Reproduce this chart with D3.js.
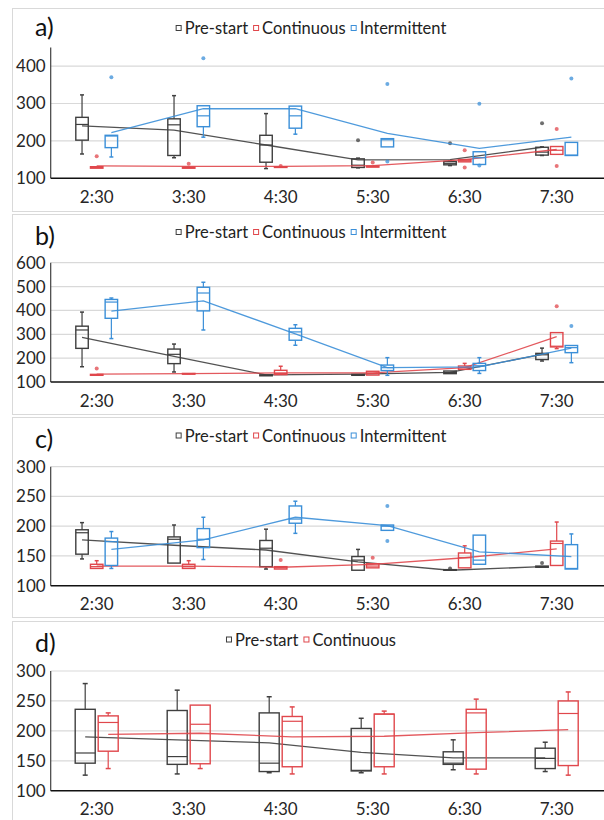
<!DOCTYPE html>
<html>
<head>
<meta charset="utf-8">
<script src="https://cdn.jsdelivr.net/npm/d3@7"></script>
<style>
  body { margin: 0; background: #fff; }
  text { font-family: Lato, "Open Sans", sans-serif; fill: #333; }
</style>
</head>
<body>
<script>
// categories
var times = ['2:30', '3:30', '4:30', '5:30', '6:30', '7:30'];

// boxes are [low whisker, q1, median, q3, high whisker]
// panel a
var aPreBox = [[165, 202, 244, 263, 323], [155, 161, 243, 259, 321], [126, 143, 189, 215, 273], [128, 129, 135, 152, 154], [134, 136, 140, 145, 146], [161, 162, 170, 183, 184]];
var aPreMean = [240, 229, 189, 149, 150, 183];
var aPreOut = [[], [], [], [202], [194], [247]];
var aConBox = [[127, 127, 129, 131, 131], [127, 127, 128, 130, 130], [129, 129, 130, 131, 131], [130, 130, 131, 133, 133], [144, 144, 147, 150, 150], [164, 164, 175, 185, 185]];
var aConMean = [133, 132, 132, 134, 150, 177];
var aConOut = [[159], [139], [133], [142], [175, 129], [232, 133]];
var aIntBox = [[157, 182, 213, 215, 215], [210, 238, 267, 294, 294], [218, 234, 267, 293, 293], [184, 184, 203, 206, 206], [137, 137, 155, 171, 171], [161, 161, 162, 196, 196]];
var aIntMean = [222, 286, 286, 220, 180, 210];
var aIntOut = [[370], [421], [], [352, 145], [299, 134], [367]];

// panel b
var bPreBox = [[164, 241, 318, 334, 393], [142, 177, 216, 238, 259], [126, 126, 128, 130, 130], [128, 128, 130, 132, 132], [135, 135, 140, 146, 146], [188, 194, 214, 220, 242]];
var bPreMean = [287, 207, 130, 133, 140, 216];
var bPreOut = [[], [], [], [], [], []];
var bConBox = [[128, 128, 130, 132, 132], [133, 133, 134, 136, 136], [131, 131, 135, 149, 166], [129, 129, 136, 145, 145], [153, 153, 160, 167, 178], [240, 247, 250, 307, 307]];
var bConMean = [133, 135, 138, 138, 160, 290];
var bConOut = [[157], [], [], [], [], [417]];
var bIntBox = [[282, 367, 435, 446, 452], [318, 398, 473, 497, 518], [254, 275, 310, 325, 340], [128, 148, 160, 171, 202], [136, 148, 168, 178, 202], [181, 223, 244, 253, 253]];
var bIntMean = [397, 440, 302, 160, 163, 242];
var bIntOut = [[], [], [], [], [], [335]];

// panel c
var cPreBox = [[145, 153, 189, 194, 206], [138, 138, 178, 182, 202], [128, 132, 163, 176, 195], [126, 126, 143, 149, 161], [126, 126, 126, 127, 127], [131, 131, 132, 133, 133]];
var cPreMean = [177, 168, 160, 140, 126, 132];
var cPreOut = [[], [], [], [], [129], [138]];
var cConBox = [[129, 129, 132, 136, 142], [129, 129, 132, 136, 142], [128, 128, 130, 132, 132], [130, 130, 133, 137, 137], [130, 130, 147, 155, 167], [134, 134, 171, 175, 207]];
var cConMean = [133, 133, 131, 136, 147, 162];
var cConOut = [[], [], [143], [147], [], []];
var cIntBox = [[129, 134, 174, 180, 191], [144, 164, 178, 196, 215], [188, 205, 212, 234, 242], [193, 193, 200, 202, 202], [136, 136, 143, 185, 185], [128, 128, 129, 169, 187]];
var cIntMean = [161, 177, 215, 201, 157, 149];
var cIntOut = [[], [], [], [234, 175], [], []];

// panel d
var dPreBox = [[126, 146, 163, 236, 279], [128, 144, 157, 234, 268], [130, 132, 146, 230, 257], [130, 133, 134, 204, 221], [135, 144, 146, 165, 185], [132, 137, 154, 171, 181]];
var dPreMean = [190, 185, 180, 164, 155, 155];
var dPreOut = [[], [], [], [], [], []];
var dConBox = [[137, 166, 214, 225, 230], [137, 145, 211, 243, 243], [128, 140, 216, 224, 240], [128, 140, 228, 228, 233], [128, 136, 230, 236, 253], [126, 142, 229, 250, 265]];
var dConMean = [194, 196, 190, 191, 197, 202];
var dConOut = [[], [], [], [], [], []];

// tick labels
var aTicks = [100, 200, 300, 400];
var bTicks = [100, 200, 300, 400, 500, 600];
var cTicks = [100, 150, 200, 250, 300];
var dTicks = [100, 150, 200, 250, 300];

var colors = { 'Pre-start': '#3f3f3f', 'Continuous': '#e0474c', 'Intermittent': '#3b8fd8' };

var W = 604, H = 820;
var svg = d3.select('body').append('svg').attr('width', W).attr('height', H);

var x = d3.scaleBand().domain(times).range([50.7, 602.7]);

var panels = [
  { label: 'a)', top: 8, bottom: 211, domain: [100, 450], range: [178.3, 47.4], ticks: aTicks, labelY: 36, legendY: 34,
    series: [
      { name: 'Pre-start', box: aPreBox, mean: aPreMean, out: aPreOut },
      { name: 'Continuous', box: aConBox, mean: aConMean, out: aConOut },
      { name: 'Intermittent', box: aIntBox, mean: aIntMean, out: aIntOut }] },
  { label: 'b)', top: 214, bottom: 414, domain: [100, 600], range: [382, 262.7], ticks: bTicks, labelY: 245, legendY: 238,
    series: [
      { name: 'Pre-start', box: bPreBox, mean: bPreMean, out: bPreOut },
      { name: 'Continuous', box: bConBox, mean: bConMean, out: bConOut },
      { name: 'Intermittent', box: bIntBox, mean: bIntMean, out: bIntOut }] },
  { label: 'c)', top: 417, bottom: 617, domain: [100, 300], range: [585.7, 466.7], ticks: cTicks, labelY: 448, legendY: 441.5,
    series: [
      { name: 'Pre-start', box: cPreBox, mean: cPreMean, out: cPreOut },
      { name: 'Continuous', box: cConBox, mean: cConMean, out: cConOut },
      { name: 'Intermittent', box: cIntBox, mean: cIntMean, out: cIntOut }] },
  { label: 'd)', top: 621, bottom: 840, domain: [100, 300], range: [790.7, 671], ticks: dTicks, labelY: 652, legendY: 645.5,
    series: [
      { name: 'Pre-start', box: dPreBox, mean: dPreMean, out: dPreOut },
      { name: 'Continuous', box: dConBox, mean: dConMean, out: dConOut }] }
];

panels.forEach(function (p) {
  var g = svg.append('g');
  // panel frame
  g.append('rect')
    .attr('x', 12.5).attr('y', p.top + 0.5)
    .attr('width', 620).attr('height', p.bottom - p.top)
    .style('fill', 'none').style('stroke', '#d9d9d9');

  var y = d3.scaleLinear().domain(p.domain).range(p.range);
  var x0 = x.range()[0];

  // gridlines
  g.selectAll('.grid').data(p.ticks.filter(function (t) { return t > p.domain[0]; }))
    .enter().append('line')
    .attr('x1', x0).attr('x2', W)
    .attr('y1', function (d) { return y(d); }).attr('y2', function (d) { return y(d); })
    .style('stroke', '#d9d9d9').style('stroke-width', 1.2);

  // y axis
  var ya = g.append('g').attr('transform', 'translate(' + x0 + ',0)')
    .call(d3.axisLeft(y).tickValues(p.ticks).tickSize(0).tickPadding(5));
  ya.select('.domain').remove();
  ya.selectAll('text').style('font-size', '17px').style('font-family', 'Lato').style('fill', '#262626');
  g.append('line').attr('x1', x0).attr('x2', x0)
    .attr('y1', y.range()[0]).attr('y2', y(p.domain[1]))
    .style('stroke', '#404040').style('stroke-width', 1.2);

  // x axis
  var xa = g.append('g').attr('transform', 'translate(0,' + y(p.domain[0]) + ')')
    .call(d3.axisBottom(x).tickSize(0).tickPadding(12.5));
  xa.select('.domain').remove();
  xa.selectAll('text').style('font-size', '17px').style('font-family', 'Lato').style('fill', '#262626');
  g.append('line').attr('x1', x0).attr('x2', W)
    .attr('y1', y(p.domain[0])).attr('y2', y(p.domain[0]))
    .style('stroke', '#111').style('stroke-width', 1.6);

  // panel label
  g.append('text').attr('x', 35).attr('y', p.labelY).text(p.label)
    .style('font-size', '25px').style('fill', '#111');

  // legend
  var leg = g.append('g');
  var lx = 0;
  p.series.forEach(function (s) {
    leg.append('rect').attr('x', lx + 0.5).attr('y', p.legendY - 8.5).attr('width', 5).attr('height', 5)
      .style('fill', 'none').style('stroke', colors[s.name]).style('stroke-width', 1);
    var t = leg.append('text').attr('x', lx + 9).attr('y', p.legendY).text(s.name)
      .style('font-size', '16.5px').style('fill', '#222');
    lx += 9 + t.node().getComputedTextLength() + 5;
  });
  leg.attr('transform', 'translate(' + (311 - (lx - 5) / 2) + ',0)');

  // boxes within a category
  var n = p.series.length;
  var inner = d3.scaleBand().domain(p.series.map(function (s) { return s.name; }))
    .range(n === 3 ? [-22, 22] : [-23, 23])
    .paddingInner(n === 3 ? 0.15 : 0.13).paddingOuter(n === 3 ? 0.075 : 0.065);
  var bw = inner.bandwidth();
  var cap = n === 3 ? 4 : 5;

  p.series.forEach(function (s) {
    var col = colors[s.name];
    var cx = function (i) { return x(times[i]) + x.bandwidth() / 2 + inner(s.name) + bw / 2; };
    var sg = g.append('g');
    s.box.forEach(function (b, i) {
      var c = cx(i);
      // whiskers
      sg.append('line').attr('x1', c).attr('x2', c).attr('y1', y(b[0])).attr('y2', y(b[1]))
        .style('stroke', col).style('stroke-width', 1.2);
      sg.append('line').attr('x1', c).attr('x2', c).attr('y1', y(b[3])).attr('y2', y(b[4]))
        .style('stroke', col).style('stroke-width', 1.2);
      if (b[0] < b[1]) sg.append('line').attr('x1', c - cap / 2).attr('x2', c + cap / 2).attr('y1', y(b[0])).attr('y2', y(b[0]))
        .style('stroke', col).style('stroke-width', 1.5);
      if (b[4] > b[3]) sg.append('line').attr('x1', c - cap / 2).attr('x2', c + cap / 2).attr('y1', y(b[4])).attr('y2', y(b[4]))
        .style('stroke', col).style('stroke-width', 1.5);
      // box
      sg.append('rect').attr('x', c - bw / 2).attr('y', y(b[3]))
        .attr('width', bw).attr('height', Math.max(0.5, y(b[1]) - y(b[3])))
        .style('fill', 'none').style('stroke', col).style('stroke-width', 1.4);
      sg.append('line').attr('x1', c - bw / 2).attr('x2', c + bw / 2).attr('y1', y(b[2])).attr('y2', y(b[2]))
        .style('stroke', col).style('stroke-width', 1.2);
      // outliers
      s.out[i].forEach(function (v) {
        sg.append('circle').attr('cx', c).attr('cy', y(v)).attr('r', 2)
          .style('fill', col).style('opacity', 0.75);
      });
    });
    // mean line
    var line = d3.line()
      .x(function (d, i) { return cx(i); })
      .y(function (d) { return y(d); });
    g.append('path').datum(s.mean).attr('d', line)
      .style('fill', 'none').style('stroke', col).style('stroke-width', 1.3).style('opacity', 0.9);
  });
});
</script>
</body>
</html>
